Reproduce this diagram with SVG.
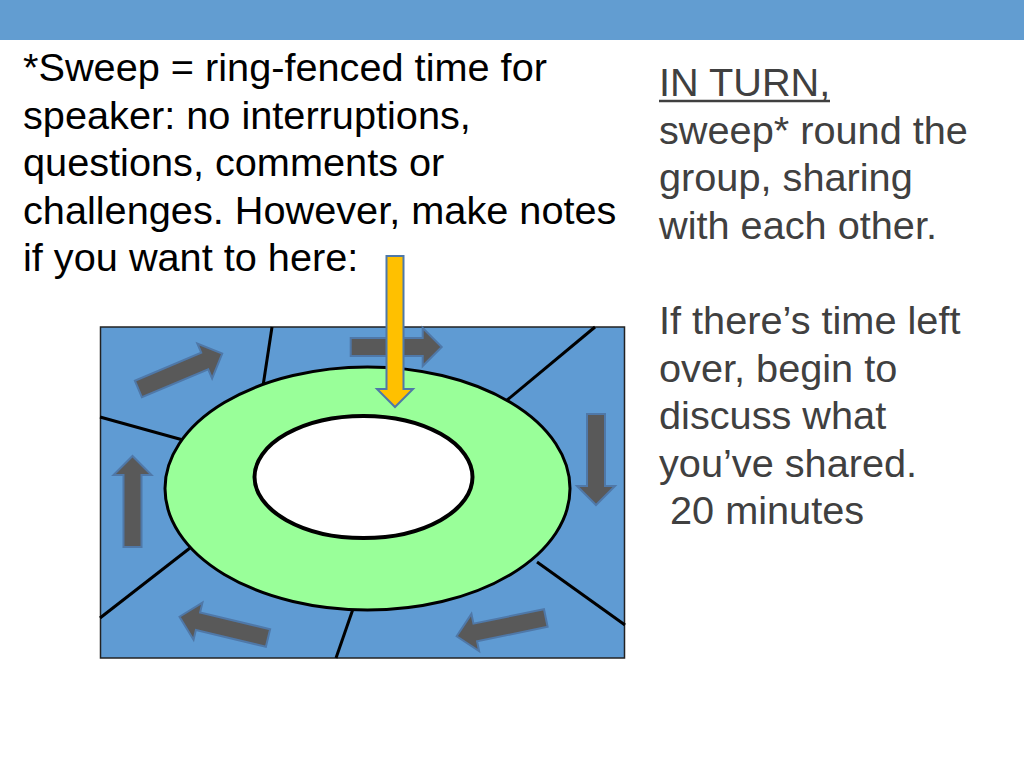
<svg xmlns="http://www.w3.org/2000/svg" xmlns:xlink="http://www.w3.org/1999/xlink" width="1024" height="768" viewBox="0 0 1024 768">
<style>
.t{font-family:"Liberation Sans",Arial,sans-serif;font-size:39.7px}
.l{fill:#000}
.r{fill:#404040}
.div{stroke:#000;stroke-width:3;fill:none;stroke-linecap:butt}
.ga{fill:#595959;stroke:#4f78a8;stroke-width:2;stroke-linejoin:miter}
</style>
<defs>
<path id="arr" d="M0,-9 L72,-9 L72,-19 L91,0 L72,19 L72,9 L0,9 Z"/>
</defs>
<rect id="topbar" x="0" y="0" width="1024" height="40" fill="#629dd1"/>
<g id="notes-text" class="t l">
<text x="23" y="81">*Sweep = ring-fenced time for</text>
<text x="23" y="128.6">speaker: no interruptions,</text>
<text x="23" y="176.2">questions, comments or</text>
<text x="23" y="223.8">challenges. However, make notes</text>
<text x="23" y="271.4">if you want to here:</text>
</g>
<g id="instructions-text" class="t r">
<text x="659" y="96">IN TURN,</text>
<line x1="659" y1="101" x2="830" y2="101" stroke="#404040" stroke-width="2.5"/>
<text x="659" y="143.6">sweep* round the</text>
<text x="659" y="191.2">group, sharing</text>
<text x="659" y="238.8">with each other.</text>
<text x="659" y="334">If there’s time left</text>
<text x="659" y="381.6">over, begin to</text>
<text x="659" y="429.2">discuss what</text>
<text x="659" y="476.8">you’ve shared.</text>
<text x="670" y="524.4">20 minutes</text>
</g>
<g id="table">
<rect x="100.5" y="327" width="524" height="331" fill="#5f9bd3" stroke="#222" stroke-width="1.5"/>
<g id="dividers">
<line class="div" x1="272" y1="327" x2="263" y2="386"/>
<line class="div" x1="100" y1="417" x2="183" y2="440"/>
<line class="div" x1="595" y1="327" x2="506" y2="401"/>
<line class="div" x1="100" y1="618" x2="190" y2="548"/>
<line class="div" x1="353" y1="609" x2="336" y2="658"/>
<line class="div" x1="537" y1="562" x2="625" y2="625"/>
</g>
<ellipse id="ring" cx="367.5" cy="488.5" rx="202.5" ry="121.5" fill="#99ff99" stroke="#000" stroke-width="3"/>
<ellipse id="centre" cx="363.5" cy="477" rx="109" ry="61" fill="#fff" stroke="#000" stroke-width="4"/>
</g>
<g id="sweep-arrows">
<use xlink:href="#arr" class="ga" transform="translate(138.4 389) rotate(-22.9)"/>
<use xlink:href="#arr" class="ga" transform="translate(350.7 347) rotate(0)"/>
<use xlink:href="#arr" class="ga" transform="translate(596 414) rotate(90)"/>
<use xlink:href="#arr" class="ga" transform="translate(545.8 618) rotate(168.4)"/>
<use xlink:href="#arr" class="ga" transform="translate(268 638) rotate(-166.5)"/>
<use xlink:href="#arr" class="ga" transform="translate(132.5 547) rotate(-90)"/>
</g>
<g id="notes-arrow">
<path d="M386.5,256 L403.5,256 L403.5,389 L413,389 L395,407 L377,389 L386.5,389 Z" fill="#ffc000" stroke="#4f78a8" stroke-width="2"/>
</g>
</svg>
